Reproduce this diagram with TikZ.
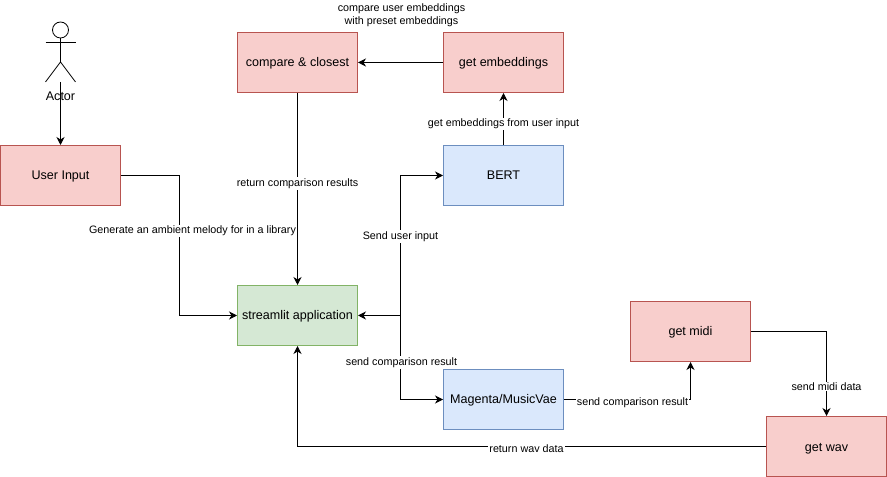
\documentclass[tikz,border=0pt]{standalone}
\usepackage{fontspec}
\setmainfont{Liberation Sans}
\usetikzlibrary{arrows.meta,calc}

\definecolor{redfill}{HTML}{F8CECC}
\definecolor{reddraw}{HTML}{B85450}
\definecolor{bluefill}{HTML}{DAE8FC}
\definecolor{bluedraw}{HTML}{6C8EBF}
\definecolor{greenfill}{HTML}{D5E8D4}
\definecolor{greendraw}{HTML}{82B366}

\begin{document}
\begin{tikzpicture}[>={Stealth[length=8bp,width=8bp,inset=2.5bp]},line width=1bp]
 \tikzstyle{box}=[draw,line width=1bp,minimum width=120bp,minimum height=60bp,font=\fontsize{12.6}{14}\selectfont,inner sep=0pt,text height=9bp,text depth=0pt]
 \tikzstyle{redbox}=[box,draw=reddraw,fill=redfill]
 \tikzstyle{bluebox}=[box,draw=bluedraw,fill=bluefill]
 \tikzstyle{greenbox}=[box,draw=greendraw,fill=greenfill]
 \tikzstyle{edgelabel}=[fill=white,font=\fontsize{10.8}{13}\selectfont,inner sep=1bp,align=center]
 \useasboundingbox (0bp,0bp) rectangle (887bp,477bp);

 \node (input) at (60.5bp,301.5bp) [redbox] {User Input};
 \node (compare) at (297.5bp,414.5bp) [redbox] {compare \& closest};
 \node (embeddings) at (503.5bp,414.5bp) [redbox] {get embeddings};
 \node (bert) at (503.5bp,301.5bp) [bluebox] {BERT};
 \node (streamlit) at (297.5bp,161.5bp) [greenbox] {streamlit application};
 \node (magenta) at (503.5bp,77.5bp) [bluebox] {Magenta/MusicVae};
 \node (midi) at (690.5bp,145.5bp) [redbox] {get midi};
 \node (wav) at (826.5bp,30.5bp) [redbox] {get wav};

 % stick figure
 \node (head) at (60.5bp,447bp) [circle,draw,line width=0.8bp,minimum size=16bp,inner sep=0pt] {};
 \coordinate (crotch) at (60.5bp,415bp);
 \coordinate (foot) at (60.5bp,395bp);
 \draw [line width=0.8bp] (head) -- (crotch);
 \draw [line width=0.8bp] (45.5bp,435bp) -- (75.5bp,435bp);
 \draw [line width=0.8bp] (45.5bp,395bp) -- (crotch) -- (75.5bp,395bp);
 \node (actor) at (60.5bp,381bp) [font=\fontsize{12.6}{14}\selectfont] {Actor};

 \coordinate (split) at (400.5bp,161.5bp);
 \coordinate (turnwav) at (297.5bp,30.5bp);

 \draw [->] (foot) -- (input);
 \draw [->] (input.east) -- (179.5bp,301.5bp) |- (streamlit.west);
 \draw [->] (embeddings) -- (compare);
 \draw [->] (compare) -- (streamlit);
 \draw [->] (bert) -- (embeddings);
 \draw [->] (split) -- (streamlit);
 \draw [->] (split) |- (bert.west);
 \draw [->] (split) |- (magenta.west);
 \draw [->] (magenta.east) -| (midi.south);
 \draw [->] (midi.east) -| (wav.north);
 \draw [->] (wav.west) -- (turnwav) -- (streamlit.south);

 \node (inputlabel) at (192.5bp,246bp) [edgelabel] {Generate an ambient melody for in a library};
 \node (returnlabel) at (297.5bp,293.5bp) [edgelabel] {return comparison results};
 \node (presetlabel) at (401.5bp,462bp) [font=\fontsize{10.8}{13}\selectfont,align=center] {compare user embeddings\\with preset embeddings};
 \node (embedlabel) at (503.5bp,353bp) [edgelabel] {get embeddings from user input};
 \node (sendlabel) at (400.5bp,240.5bp) [edgelabel] {Send user input};
 \node (resultlabel) at (401.5bp,114.5bp) [edgelabel] {send comparison result};
 \node (magentalabel) at (632.5bp,74.5bp) [edgelabel] {send comparison result};
 \node (midilabel) at (826.5bp,90.5bp) [edgelabel] {send midi data};
 \node (wavlabel) at (526.5bp,28.5bp) [edgelabel] {return wav data};
\end{tikzpicture}
\end{document}
